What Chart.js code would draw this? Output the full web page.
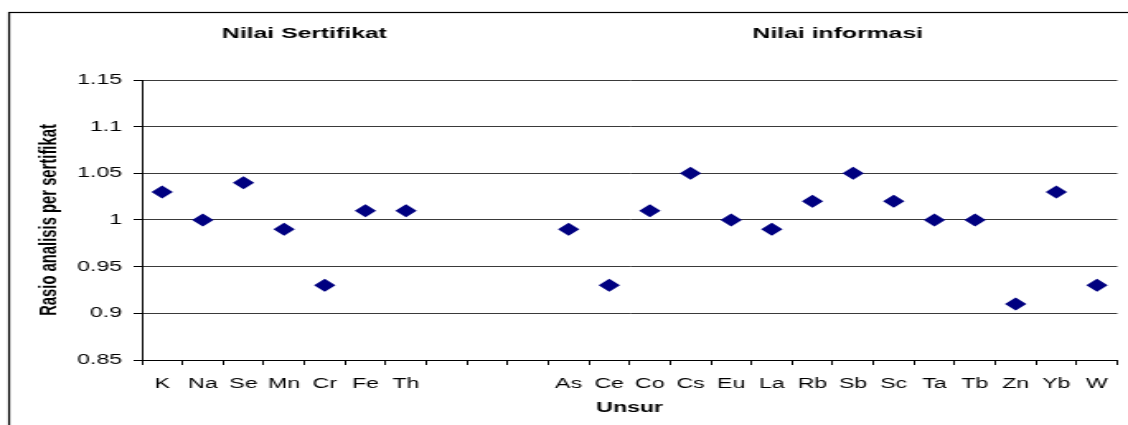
<!DOCTYPE html>
<html lang="id">
<head>
    <meta charset="UTF-8">
    <title>Rasio analisis per sertifikat</title>
    <script src="https://cdn.jsdelivr.net/npm/chart.js"></script>
    <style>
        body { margin: 0; background: #fff; overflow: hidden; }
        /* the reference is a horizontally stretched picture, so draw narrow and stretch */
        #wrap {
            width: 684px;
            height: 425px;
            transform: scaleX(1.64912);
            transform-origin: 0 0;
        }
    </style>
</head>
<body>
    <div id="wrap">
        <canvas id="rasioChart"></canvas>
    </div>

    <script>
        // Data
        const sertifikatLabels = ['K', 'Na', 'Se', 'Mn', 'Cr', 'Fe', 'Th'];
        const sertifikatValues = [1.03, 1.00, 1.04, 0.99, 0.93, 1.01, 1.01];
        const gapLabels = ['', '', ''];
        const informasiLabels = ['As', 'Ce', 'Co', 'Cs', 'Eu', 'La', 'Rb', 'Sb', 'Sc', 'Ta', 'Tb', 'Zn', 'Yb', 'W'];
        const informasiValues = [0.99, 0.93, 1.01, 1.05, 1.00, 0.99, 1.02, 1.05, 1.02, 1.00, 1.00, 0.91, 1.03, 0.93];
        const yTicks = [0.85, 0.9, 0.95, 1, 1.05, 1.1, 1.15];
        const headings = ['Nilai Sertifikat', 'Nilai informasi'];

        const labels = [...sertifikatLabels, ...gapLabels, ...informasiLabels];
        const values = [...sertifikatValues, ...gapLabels.map(() => null), ...informasiValues];

        const fontFamily = '"Liberation Sans", Arial, sans-serif';

        // frame round the chart and the two group headings
        const decorPlugin = {
            id: 'decor',
            beforeDraw(chart) {
                const ctx = chart.ctx;
                ctx.save();
                ctx.strokeStyle = '#000';
                ctx.lineWidth = 1.2;
                ctx.strokeRect(5.5, 12.5, 800, 600);
                ctx.restore();
            },
            afterDraw(chart) {
                const ctx = chart.ctx;
                const x = chart.scales.x;
                const centers = [
                    x.getPixelForValue((sertifikatLabels.length) / 2),
                    x.getPixelForValue(sertifikatLabels.length + gapLabels.length + (informasiLabels.length - 1) / 2) + 3
                ];
                ctx.save();
                ctx.fillStyle = '#000';
                ctx.font = 'bold 15px ' + fontFamily;
                ctx.textAlign = 'center';
                ctx.textBaseline = 'middle';
                headings.forEach((h, i) => ctx.fillText(h, centers[i], 34));
                ctx.restore();
            }
        };

        const ctx = document.getElementById('rasioChart').getContext('2d');
        new Chart(ctx, {
            type: 'line',
            data: {
                labels: labels,
                datasets: [{
                    data: values,
                    showLine: false,
                    pointStyle: 'rectRot',
                    pointRadius: 6.5,
                    pointHoverRadius: 6.5,
                    backgroundColor: '#000080',
                    borderColor: '#000080',
                    borderWidth: 0
                }]
            },
            options: {
                responsive: true,
                maintainAspectRatio: false,
                animation: false,
                events: [],
                layout: {
                    padding: { top: 80, right: 2.4, bottom: 0, left: 0 }
                },
                plugins: {
                    legend: { display: false },
                    tooltip: { enabled: false },
                    title: { display: false }
                },
                scales: {
                    x: {
                        type: 'category',
                        offset: true,
                        afterFit: s => { s.height = 65; },
                        grid: {
                            offset: true,
                            drawOnChartArea: false,
                            drawTicks: true,
                            tickLength: 5,
                            color: '#000',
                            lineWidth: 1
                        },
                        border: { color: '#000', width: 1 },
                        ticks: {
                            color: '#000',
                            font: { family: fontFamily, size: 14 },
                            padding: 11,
                            maxRotation: 0,
                            autoSkip: false
                        },
                        title: {
                            display: true,
                            text: 'Unsur',
                            color: '#000',
                            font: { family: fontFamily, size: 14, weight: 'bold' },
                            padding: { top: 0, bottom: 8 }
                        }
                    },
                    y: {
                        min: yTicks[0],
                        max: yTicks[yTicks.length - 1],
                        afterFit: s => { s.width = 86; },
                        afterBuildTicks: s => { s.ticks = yTicks.map(v => ({ value: v })); },
                        grid: {
                            color: '#3a3a3a',
                            lineWidth: 1,
                            drawTicks: true,
                            tickLength: 5,
                            tickColor: '#000'
                        },
                        border: { color: '#000', width: 1 },
                        ticks: {
                            color: '#000',
                            font: { family: fontFamily, size: 14 },
                            padding: 7,
                            callback: v => String(+Number(v).toFixed(2))
                        },
                        title: {
                            display: true,
                            text: 'Rasio analisis per sertifikat',
                            color: '#000',
                            font: { family: fontFamily, size: 14.8, weight: 'bold' },
                            padding: { top: 21, bottom: 0 }
                        }
                    }
                }
            },
            plugins: [decorPlugin]
        });
    </script>
</body>
</html>
